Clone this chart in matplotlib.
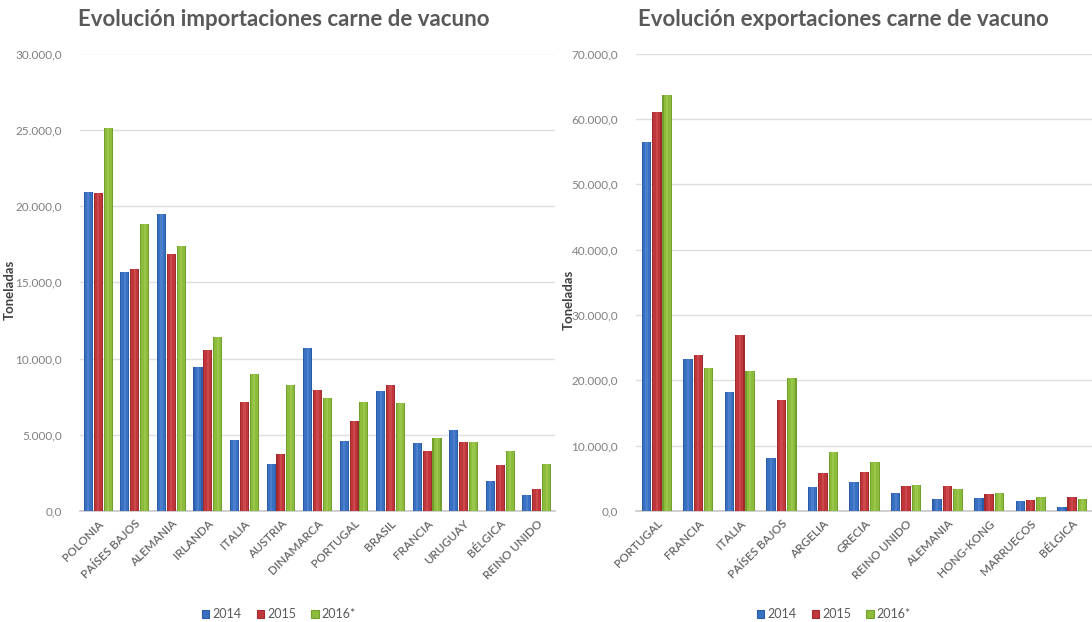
import matplotlib
matplotlib.use("Agg")
import matplotlib.pyplot as plt
import numpy as np
from matplotlib.ticker import FuncFormatter, MultipleLocator
from matplotlib.patches import Patch

plt.rcParams['font.family'] = ['Lato', 'DejaVu Sans']

years = ["2014", "2015", "2016*"]

imp_countries = ["POLONIA", "PAÍSES BAJOS", "ALEMANIA", "IRLANDA", "ITALIA", "AUSTRIA",
                 "DINAMARCA", "PORTUGAL", "BRASIL", "FRANCIA", "URUGUAY", "BÉLGICA", "REINO UNIDO"]
imp_2014 = [20900, 15700, 19500, 9450, 4650, 3050, 10700, 4560, 7880, 4490, 5290, 1990, 1020]
imp_2015 = [20850, 15900, 16870, 10550, 7170, 3760, 7960, 5880, 8230, 3960, 4540, 2990, 1420]
imp_2016 = [25100, 18800, 17400, 11390, 8980, 8270, 7390, 7150, 7100, 4780, 4520, 3920, 3100]

exp_countries = ["PORTUGAL", "FRANCIA", "ITALIA", "PAÍSES BAJOS", "ARGELIA", "GRECIA",
                 "REINO UNIDO", "ALEMANIA", "HONG-KONG", "MARRUECOS", "BÉLGICA"]
exp_2014 = [56500, 23200, 18210, 8110, 3670, 4390, 2700, 1840, 1990, 1530, 610]
exp_2015 = [61100, 23830, 26890, 16990, 5820, 6020, 3830, 3830, 2550, 1730, 2140]
exp_2016 = [63700, 21940, 21380, 20360, 8980, 7500, 3980, 3370, 2800, 2140, 1890]

colors = ["#3a70c2", "#c0373b", "#8dbb3c"]
dark = ["#2b5ca6", "#a02a2e", "#72a02e"]
light = ["#5d8fd8", "#d95a5d", "#a8d35a"]

W, H = 1092, 622
fig = plt.figure(figsize=(W / 100, H / 100), dpi=100)


def fmt(v, pos):
    s = f"{v:,.1f}"
    return s.replace(",", "X").replace(".", ",").replace("X", ".")


def draw(ax_rect, cats, series, ymax, ystep, title, title_x, ylab_xy, bw):
    ax = fig.add_axes(ax_rect)
    x = np.arange(len(cats))
    for i, vals in enumerate(series):
        xs = x + (i - 1) * bw
        ax.bar(xs, vals, width=bw * 0.92, color=dark[i], zorder=3, linewidth=0)
        ax.bar(xs, vals, width=bw * 0.7, color=colors[i], zorder=4, linewidth=0)
        ax.bar(xs, vals, width=bw * 0.22, color=light[i], zorder=5, linewidth=0, alpha=0.5)
    ax.set_xlim(-0.5, len(cats) - 0.5)
    ax.set_ylim(0, ymax)
    ax.yaxis.set_major_locator(MultipleLocator(ystep))
    ax.yaxis.set_major_formatter(FuncFormatter(fmt))
    ax.grid(axis='y', color='#dedede', linewidth=1.0, zorder=0)
    ax.set_axisbelow(True)
    for s in ['top', 'right', 'left']:
        ax.spines[s].set_visible(False)
    ax.spines['bottom'].set_color('#c8c8c8')
    ax.spines['bottom'].set_linewidth(1.2)
    ax.tick_params(axis='y', length=0, pad=13, labelsize=8.5, labelcolor='#808080')
    ax.tick_params(axis='x', length=0, pad=5)
    ax.set_xticks(x)
    ax.set_xticklabels(cats, rotation=45, ha='right', rotation_mode='anchor',
                       fontsize=8.5, color='#666666', fontweight='semibold')
    ax.set_ylabel("Toneladas", fontsize=9.5, fontweight='bold', color='#404040')
    ax.yaxis.set_label_coords(*ylab_xy)
    fig.text(title_x, 1 - 20 / H, title, fontsize=16, fontweight='bold', color='#595959',
             ha='left', va='center')
    return ax


ax1 = draw([80 / W, 111 / H, 475 / W, 457.5 / H], imp_countries,
           [imp_2014, imp_2015, imp_2016], 30000, 5000,
           "Evolución importaciones carne de vacuno", 78 / W, (-0.135, 0.483), 0.27)
ax2 = draw([636 / W, 111 / H, 457 / W, 457.5 / H], exp_countries,
           [exp_2014, exp_2015, exp_2016], 70000, 10000,
           "Evolución exportaciones carne de vacuno", 638 / W, (-0.133, 0.461), 0.25)

handles = [Patch(facecolor=colors[i], edgecolor=dark[i], linewidth=0.8) for i in range(3)]
for cx in (279 / W, 834 / W):
    fig.legend(handles, years, loc='center', bbox_to_anchor=(cx, 1 - 614 / H), ncol=3,
               frameon=False, fontsize=9, labelcolor='#595959', handlelength=0.6,
               handleheight=0.6, handletextpad=0.25, columnspacing=1.2)

fig.savefig("out.png", dpi=100, facecolor='white')
